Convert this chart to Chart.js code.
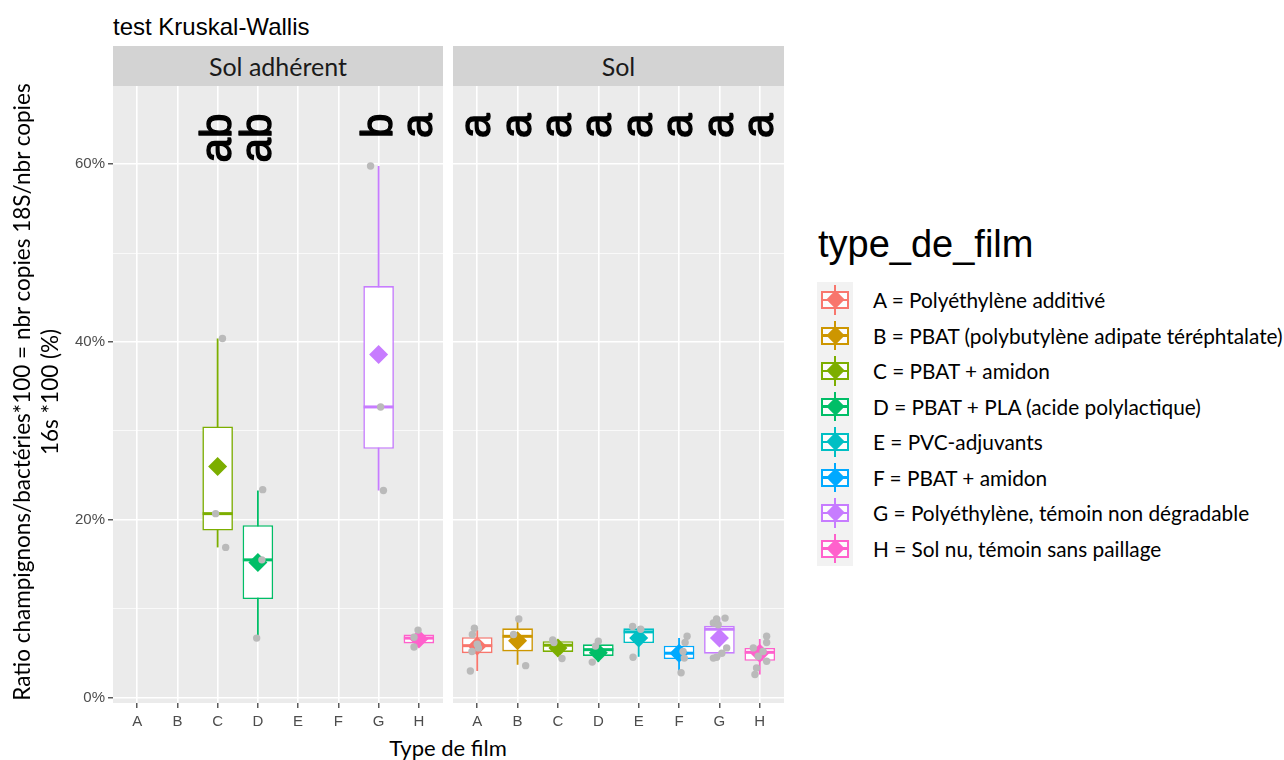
<!DOCTYPE html>
<html lang="fr">
<head>
<meta charset="UTF-8">
<title>test Kruskal-Wallis</title>
<script src="https://cdn.jsdelivr.net/npm/chart.js"></script>
<style>
  body { margin: 0; background: #fff; width: 1284px; height: 760px; position: relative; overflow: hidden; font-family: Lato, "Open Sans", sans-serif; color: #000; }
  .abs { position: absolute; }
  #title { left: 113px; top: 15px; font: 24px/24px "Liberation Sans", Arial, sans-serif; white-space: nowrap; }
  .strip { top: 46px; height: 40px; background: #d3d3d3; text-align: center; font-size: 25px; line-height: 40px; color: #1a1a1a; }
  #ytitle { left: -284px; top: 364px; width: 640px; height: 56px; text-align: center; font-size: 22.5px; line-height: 28px; transform: rotate(-90deg); white-space: nowrap; }
  #xtitle { left: 348px; top: 735px; width: 200px; text-align: center; font-size: 22px; line-height: 26px; }
  #legend-title { left: 818px; top: 225px; font: 38px/38px "Liberation Sans", Arial, sans-serif; white-space: nowrap; }
  #legend-keys { left: 817px; top: 282px; width: 36px; background: #f2f2f2; }
  .key { position: relative; width: 36px; height: 35.5px; }
  .key .vline { position: absolute; left: 17.2px; width: 1.6px; top: 3px; bottom: 3px; }
  .key .box { position: absolute; left: 4px; top: 9px; width: 24px; height: 14px; border: 2px solid; background: rgba(255,255,255,0.75); }
  .key .med { position: absolute; left: 0; right: 0; top: 5.5px; height: 2.5px; }
  .key .dia { position: absolute; left: 11.5px; top: 11.2px; width: 13px; height: 13px; transform: rotate(45deg); }
  .label { left: 873px; height: 35.5px; line-height: 35.5px; font-size: 20.8px; white-space: nowrap; }
</style>
</head>
<body>
  <div id="title" class="abs">test Kruskal-Wallis</div>
  <div class="abs strip" style="left:113px; width:330px;">Sol adhérent</div>
  <div class="abs strip" style="left:453px; width:331px;">Sol</div>
  <canvas id="chartAdh" class="abs" width="443" height="640" style="left:0; top:86px;"></canvas>
  <canvas id="chartSol" class="abs" width="331" height="640" style="left:453px; top:86px;"></canvas>
  <div id="ytitle" class="abs">Ratio champignons/bactéries*100 = nbr copies 18S/nbr copies<br>16s *100 (%)</div>
  <div id="xtitle" class="abs">Type de film</div>
  <div id="legend-title" class="abs">type_de_film</div>
  <div id="legend-keys" class="abs"></div>
  <div id="legend-labels"></div>

<script>
// catégories et légende
const categories = ['A', 'B', 'C', 'D', 'E', 'F', 'G', 'H'];
const filmLabels = [
  'A = Polyéthylène additivé',
  'B = PBAT (polybutylène adipate téréphtalate)',
  'C = PBAT + amidon',
  'D = PBAT + PLA (acide polylactique)',
  'E = PVC-adjuvants',
  'F = PBAT + amidon',
  'G = Polyéthylène, témoin non dégradable',
  'H = Sol nu, témoin sans paillage'
];
const filmColors = ['#F8766D', '#CD9600', '#7CAE00', '#00BE67', '#00BFC4', '#00A9FF', '#C77CFF', '#FF61CC'];
const yTickValues = [0, 10, 20, 30, 40, 50, 60];

// Sol adhérent (en %)
const adhLow  = [null, null, 16.9,  6.7, null, null, 23.3, 5.7];
const adhQ1   = [null, null, 18.8, 11.1, null, null, 28.0, 6.1];
const adhMed  = [null, null, 20.7, 15.5, null, null, 32.7, 6.7];
const adhQ3   = [null, null, 30.5, 19.4, null, null, 46.3, 7.1];
const adhHigh = [null, null, 40.4, 23.3, null, null, 59.8, 7.5];
const adhMean = [null, null, 26.0, 15.2, null, null, 38.6, 6.6];
// [catégorie (1-8), décalage jitter, valeur]
const adhPoints = [
  [3, -0.05, 20.7], [3, 0.12, 40.4], [3, 0.2, 16.9],
  [4, 0.1, 15.5], [4, -0.03, 6.7], [4, 0.12, 23.4],
  [7, -0.2, 59.8], [7, 0.05, 32.7], [7, 0.12, 23.3],
  [8, -0.02, 7.6], [8, -0.12, 6.8], [8, -0.12, 5.7]
];
const adhLetters = ['', '', 'ab', 'ab', '', '', 'b', 'a'];

// Sol (en %)
const solLow  = [3.0, 3.7, 4.6, 4.0, 4.6, 2.8, 4.5, 2.6];
const solQ1   = [5.0, 5.2, 5.15, 4.7, 6.15, 4.35, 4.95, 4.15];
const solMed  = [5.85, 6.9, 5.9, 5.4, 7.4, 5.0, 7.7, 5.1];
const solQ3   = [6.8, 7.8, 6.35, 6.0, 7.8, 5.85, 8.1, 5.6];
const solHigh = [7.6, 8.8, 6.5, 6.35, 8.0, 6.7, 9.0, 6.6];
const solMean = [5.8, 6.4, 5.6, 5.05, 6.7, 5.0, 6.7, 5.0];
const solPoints = [
  [1, -0.07, 7.8], [1, -0.12, 7.1], [1, 0.0, 6.0], [1, 0.03, 5.6], [1, -0.13, 5.2], [1, -0.17, 3.0],
  [2, 0.03, 8.85], [2, -0.1, 7.1], [2, 0.2, 3.6],
  [3, -0.13, 6.5], [3, -0.1, 6.2], [3, 0.1, 4.4],
  [4, 0.0, 6.35], [4, -0.07, 5.8], [4, -0.15, 4.0],
  [5, -0.15, 8.0], [5, 0.05, 7.7], [5, -0.14, 4.55],
  [6, 0.2, 6.9], [6, 0.15, 6.2], [6, 0.1, 5.2], [6, 0.13, 4.45], [6, 0.05, 2.8],
  [7, -0.07, 8.85], [7, 0.14, 8.95], [7, -0.15, 8.4], [7, -0.03, 8.2],
  [7, 0.18, 5.6], [7, 0.06, 5.0], [7, -0.07, 4.55], [7, -0.15, 4.45],
  [8, 0.17, 6.9], [8, 0.17, 6.2], [8, -0.16, 5.6], [8, 0.08, 5.2],
  [8, -0.04, 4.65], [8, 0.17, 4.1], [8, -0.08, 3.35], [8, -0.12, 2.6]
];
const solLetters = ['a', 'a', 'a', 'a', 'a', 'a', 'a', 'a'];

// fond gris du panneau
const panelBg = {
  id: 'panelBg',
  beforeDraw(chart) {
    const { ctx, chartArea: a } = chart;
    ctx.save();
    ctx.fillStyle = '#ebebeb';
    ctx.fillRect(a.left, a.top, a.right - a.left, a.bottom - a.top);
    ctx.restore();
  }
};

// lettres du test (texte vertical)
const letterPlugin = {
  id: 'letters',
  afterDatasetsDraw(chart, args, opts) {
    const { ctx, scales: { x, y } } = chart;
    ctx.save();
    ctx.font = '44px "Liberation Sans", Arial, sans-serif';
    ctx.fillStyle = '#000';
    ctx.strokeStyle = '#000';
    ctx.lineWidth = 1.4;
    ctx.lineJoin = 'round';
    ctx.textAlign = 'right';
    ctx.textBaseline = 'middle';
    opts.letters.forEach((t, i) => {
      if (!t) return;
      ctx.save();
      ctx.translate(x.getPixelForValue(i + 1) + 1, y.getPixelForValue(opts.at));
      ctx.rotate(-Math.PI / 2);
      ctx.fillText(t, 0, 0);
      ctx.strokeText(t, 0, 0);
      ctx.restore();
    });
    ctx.restore();
  }
};

function buildDatasets(low, q1, med, q3, high, mean, points) {
  const idx = categories.map((c, i) => i).filter(i => med[i] !== null);
  const cols = idx.map(i => filmColors[i]);
  return [
    {
      type: 'scatter', label: 'points',
      data: points.map(p => ({ x: p[0] + p[1], y: p[2] })),
      pointRadius: 3.7, pointBackgroundColor: '#bababa', pointBorderWidth: 0, order: 0
    },
    {
      type: 'scatter', label: 'moyenne',
      data: idx.map(i => ({ x: i + 1, y: mean[i] })),
      pointStyle: 'rectRot', pointRadius: 9.5, pointBackgroundColor: cols, pointBorderWidth: 0, order: 1
    },
    {
      type: 'scatter', label: 'médiane',
      data: idx.map(i => ({ x: i + 1, y: med[i] })),
      pointStyle: 'line', pointRadius: 15, pointBorderColor: cols, pointBorderWidth: 3, order: 2
    },
    {
      type: 'bar', label: 'boîte',
      data: idx.map(i => ({ x: i + 1, y: [q1[i], q3[i]] })),
      backgroundColor: '#fff', borderColor: cols, borderWidth: 1.6, borderSkipped: false,
      barPercentage: 0.76, categoryPercentage: 1, grouped: false, order: 3
    },
    {
      type: 'bar', label: 'moustaches',
      data: idx.map(i => ({ x: i + 1, y: [low[i], high[i]] })),
      backgroundColor: cols, borderWidth: 0,
      barPercentage: 0.045, categoryPercentage: 1, grouped: false, order: 4
    }
  ];
}

function makePanel(canvasId, datasets, letters, showY) {
  const tickFont = { family: '"Liberation Sans", Arial, sans-serif', size: 15 };
  new Chart(document.getElementById(canvasId), {
    type: 'bar',
    data: { datasets: datasets },
    options: {
      responsive: false,
      animation: false,
      events: [],
      layout: { padding: 0, autoPadding: false },
      plugins: {
        legend: { display: false },
        tooltip: { enabled: false },
        letters: { letters: letters, at: 65.7 }
      },
      scales: {
        x: {
          type: 'linear', min: 0.4, max: 8.6, offset: false,
          afterBuildTicks: s => { s.ticks = categories.map((c, i) => ({ value: i + 1 })); },
          afterFit: s => { s.height = 23; s.paddingLeft = 0; s.paddingRight = 0; },
          ticks: { callback: v => categories[v - 1], color: '#4d4d4d', font: tickFont, padding: 5, autoSkip: false, maxRotation: 0 },
          grid: { color: '#ffffff', lineWidth: 1.6, offset: false, tickColor: '#333', tickLength: 5, tickWidth: 1.2 },
          border: { display: false }
        },
        y: {
          type: 'linear', min: -0.6, max: 68.8,
          afterBuildTicks: s => { s.ticks = yTickValues.map(v => ({ value: v })); },
          afterFit: s => { s.width = showY ? 113 : 0; s.paddingTop = 0; s.paddingBottom = 0; },
          ticks: {
            display: showY, autoSkip: false, padding: 3, color: '#4d4d4d', font: tickFont,
            callback: v => (v % 20 === 0 ? v + '%' : '')
          },
          grid: {
            color: '#ffffff',
            lineWidth: c => (c.tick && c.tick.value % 20 === 0 ? 1.6 : 0.7),
            drawTicks: showY, tickLength: 5, tickWidth: 1.2,
            tickColor: c => (c.tick && c.tick.value % 20 === 0 ? '#333' : 'rgba(0,0,0,0)')
          },
          border: { display: false }
        }
      }
    },
    plugins: [panelBg, letterPlugin]
  });
}

makePanel('chartAdh', buildDatasets(adhLow, adhQ1, adhMed, adhQ3, adhHigh, adhMean, adhPoints), adhLetters, true);
makePanel('chartSol', buildDatasets(solLow, solQ1, solMed, solQ3, solHigh, solMean, solPoints), solLetters, false);

// légende
const keys = document.getElementById('legend-keys');
const labelsBox = document.getElementById('legend-labels');
filmLabels.forEach((lab, i) => {
  const c = filmColors[i];
  const k = document.createElement('div');
  k.className = 'key';
  k.innerHTML = '<div class="vline" style="background:' + c + '"></div>' +
    '<div class="box" style="border-color:' + c + '"><div class="med" style="background:' + c + '"></div></div>' +
    '<div class="dia" style="background:' + c + '"></div>';
  keys.appendChild(k);
  const l = document.createElement('div');
  l.className = 'abs label';
  l.style.top = (282 + i * 35.5) + 'px';
  l.textContent = lab;
  labelsBox.appendChild(l);
});
</script>
</body>
</html>
